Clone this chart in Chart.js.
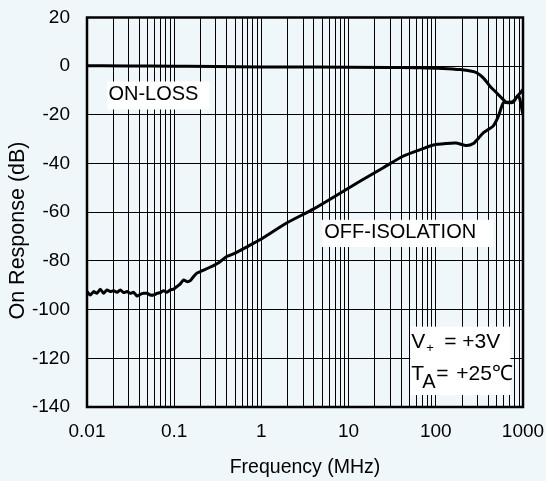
<!DOCTYPE html>
<html><head><meta charset="utf-8">
<script src="https://cdn.jsdelivr.net/npm/chart.js@4.4.0/dist/chart.umd.min.js"></script>
<style>html,body{margin:0;padding:0;background:#eff7fa;}#wrap{width:546px;height:481px;}</style>
</head><body><div id="wrap"><canvas id="c" width="546" height="481"></canvas></div>
<script>
// ---- data ----
const xMajorTicks = [0.01, 0.1, 1, 10, 100, 1000];
const xTickLabels = ['0.01', '0.1', '1', '10', '100', '1000'];
const yTicks = [-140, -120, -100, -80, -60, -40, -20, 0, 20];

const offFreq = [0.01,0.0109,0.0119,0.013,0.0142,0.0155,0.0169,0.0185,0.0202,0.0221,0.0241,0.0263,0.0288,0.0314,0.0343,0.0374,0.0408,0.0446,0.0487,0.0532,0.0581,0.0635,0.0693,0.0757,0.0826,0.0902,0.0985,0.1076,0.1175,0.128,0.14,0.153,0.167,0.182,0.199,0.257,0.33,0.40,0.50,0.70,0.96,1.95,3.94,7,13.5,25,42,70,94,130,170,225,269,310,350,400,457,521,596,680,770,880,1000];
const offDb = [-92.6,-94,-92.6,-93.3,-91.6,-93.3,-91.9,-92.6,-92.2,-92.9,-91.9,-93,-92.6,-93.3,-92.9,-94.4,-93.7,-93.3,-93.3,-94,-94,-93.3,-93,-92.2,-92.9,-91.9,-91.6,-90.5,-89.4,-87.8,-88.5,-88.1,-86.4,-85,-84.4,-82.6,-80.5,-78.2,-76.8,-74,-71.3,-64.4,-58.7,-53.4,-47.3,-41.7,-37,-34,-32.4,-31.8,-31.6,-32.6,-31.8,-29.5,-27.4,-26,-24.5,-20.6,-15,-14.8,-14.5,-12,-9.6];

const onFreq = [0.01,0.03,0.1,0.3,1,3,10,30,66,120,190,250,294,350,418,500,594,660,770,880,1000];
const onDb = [0.2,0.1,0,-0.1,-0.3,-0.35,-0.4,-0.5,-0.6,-0.9,-1.4,-2,-2.7,-4.8,-8.2,-11,-13.7,-15,-14.8,-12,-19.9];

const seriesNames = ['ON-LOSS', 'OFF-ISOLATION'];
const xTitle = 'Frequency (MHz)';
const yTitle = 'On Response (dB)';

// ---- annotation anchors (data space) ----
const notes = [
  {text: 'ON-LOSS', x: 0.0176, y: -11.6, box: [0.0171, 0.254, -6.3, -17.8]},
  {text: 'OFF-ISOLATION', x: 5.26, y: -68.4, box: [4.95, 456, -63.1, -74.3]}
];
const condBox = [51, 716, -107, -135.1];
const yTitleAnchor = -67.5; // dB value at which the y title is centred

const FONT = "'Liberation Sans', Arial, sans-serif";
const BG = '#eff7fa';

const gridTicks = [];
for (let i = 0; i < xMajorTicks.length - 1; i++) {
  for (let m = 1; m <= 9; m++) gridTicks.push(+(xMajorTicks[i] * m).toPrecision(6));
}
gridTicks.push(xMajorTicks[xMajorTicks.length - 1]);

function toXY(fs, ds) { return fs.map((f, i) => ({x: f, y: ds[i]})); }

const decor = {
  id: 'decor',
  beforeDraw(chart) {
    const ctx = chart.ctx;
    ctx.save();
    ctx.fillStyle = BG;
    ctx.fillRect(0, 0, chart.width, chart.height);
    ctx.restore();
  },
  beforeDatasetsDraw(chart) {
    const ctx = chart.ctx, xs = chart.scales.x, ys = chart.scales.y;
    ctx.save();
    notes.forEach(n => {
      const l = xs.getPixelForValue(n.box[0]), r = xs.getPixelForValue(n.box[1]);
      const t = ys.getPixelForValue(n.box[2]), b = ys.getPixelForValue(n.box[3]);
      ctx.fillStyle = '#ffffff';
      ctx.fillRect(l, t, r - l, b - t);
      ctx.fillStyle = '#000';
      ctx.font = '20px ' + FONT;
      ctx.textBaseline = 'middle';
      ctx.textAlign = 'left';
      ctx.fillText(n.text, xs.getPixelForValue(n.x), ys.getPixelForValue(n.y));
    });
    // conditions box
    const l = xs.getPixelForValue(condBox[0]), r = xs.getPixelForValue(condBox[1]);
    const t = ys.getPixelForValue(condBox[2]), b = ys.getPixelForValue(condBox[3]);
    ctx.fillStyle = '#ffffff';
    ctx.fillRect(l, t, r - l, b - t);
    ctx.fillStyle = '#000';
    ctx.textBaseline = 'alphabetic';
    const x0 = l + 1, b1 = t + 21.5, b2 = t + 53.5;
    ctx.font = '21px ' + FONT;
    ctx.fillText('V', x0, b1);
    ctx.font = '13px ' + FONT;
    ctx.fillText('+', x0 + 15, b1 + 4);
    ctx.font = '21px ' + FONT;
    ctx.fillText('=', x0 + 33, b1);
    ctx.fillText('+3V', x0 + 51, b1);
    ctx.fillText('T', x0, b2);
    ctx.font = '20px ' + FONT;
    ctx.fillText('A', x0 + 11, b2 + 8);
    ctx.font = '21px ' + FONT;
    ctx.fillText('=', x0 + 25, b2);
    ctx.fillText('+25\u2103', x0 + 45, b2);
    ctx.restore();
  },
  afterDatasetsDraw(chart) {
    const ctx = chart.ctx, a = chart.chartArea;
    ctx.save();
    ctx.strokeStyle = '#000';
    ctx.lineWidth = 2.5;
    ctx.strokeRect(a.left, a.top, a.right - a.left, a.bottom - a.top);
    // y axis title
    const ys = chart.scales.y;
    ctx.translate(18.5, ys.getPixelForValue(yTitleAnchor));
    ctx.rotate(-Math.PI / 2);
    ctx.fillStyle = '#000';
    ctx.font = '21.5px ' + FONT;
    ctx.textAlign = 'center';
    ctx.textBaseline = 'middle';
    ctx.fillText(yTitle, 0, 0);
    ctx.restore();
  }
};

new Chart(document.getElementById('c'), {
  type: 'scatter',
  data: {
    datasets: [
      {label: seriesNames[0], data: toXY(onFreq, onDb), showLine: true, borderColor: '#000', borderWidth: 3, pointRadius: 0, cubicInterpolationMode: 'monotone', fill: false},
      {label: seriesNames[1], data: toXY(offFreq, offDb), showLine: true, borderColor: '#000', borderWidth: 3, pointRadius: 0, tension: 0.2, fill: false}
    ]
  },
  options: {
    responsive: false,
    animation: false,
    devicePixelRatio: 1,
    layout: {padding: {top: 17.5, right: 23, left: 0, bottom: 0}},
    plugins: {legend: {display: false}, tooltip: {enabled: false}},
    scales: {
      x: {
        type: 'logarithmic', min: 0.01, max: 1000,
        afterBuildTicks(scale) { scale.ticks = gridTicks.map(v => ({value: v, major: false})); },
        afterFit(scale) { scale.height = 74; scale.paddingLeft = 0; scale.paddingRight = 0; },
        ticks: {
          autoSkip: false, maxRotation: 0, minRotation: 0, padding: 13, color: '#000',
          font: {family: FONT, size: 19},
          callback(v) {
            const i = xMajorTicks.findIndex(m => Math.abs(m - v) / m < 1e-6);
            return i >= 0 ? xTickLabels[i] : '';
          }
        },
        grid: {color: '#000', lineWidth: 1, drawTicks: false},
        border: {display: false},
        title: {display: true, text: xTitle, color: '#000', font: {family: FONT, size: 19.5}, padding: {top: 0, bottom: 2}}
      },
      y: {
        type: 'linear', min: yTicks[0], max: yTicks[yTicks.length - 1],
        afterBuildTicks(scale) { scale.ticks = yTicks.map(v => ({value: v})); },
        afterFit(scale) { scale.width = 87; scale.paddingTop = 0; scale.paddingBottom = 0; },
        ticks: {padding: 17, color: '#000', font: {family: FONT, size: 19}},
        grid: {color: '#000', lineWidth: 1, drawTicks: false},
        border: {display: false},
        title: {display: false}
      }
    }
  },
  plugins: [decor]
});
</script>
</body></html>
